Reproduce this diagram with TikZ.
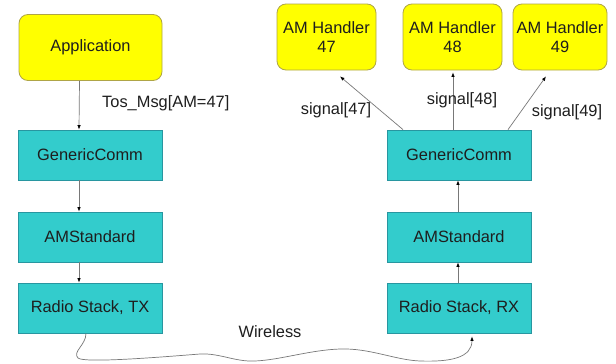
\documentclass[tikz,border=0pt]{standalone}
\usepackage{fontspec}
\setmainfont{Liberation Sans}
\usetikzlibrary{arrows.meta}
\definecolor{yfill}{RGB}{255,255,0}
\definecolor{ydraw}{RGB}{175,165,70}
\definecolor{tfill}{RGB}{51,204,204}
\definecolor{tdraw}{RGB}{40,150,160}
\definecolor{lgray}{RGB}{120,120,120}
\definecolor{txt}{RGB}{30,30,30}
\tikzset{
  every node/.style={font=\fontsize{16.4}{19}\selectfont, text=txt},
  ybox/.style={draw=ydraw, fill=yfill, rounded corners=9pt, line width=0.8pt, inner sep=0pt, align=center},
  tbox/.style={draw=tdraw, fill=tfill, line width=0.8pt, inner sep=0pt, minimum width=144pt, minimum height=50pt},
  conn/.style={draw=lgray, line width=0.7pt, -{Latex[length=4.5pt,width=3.5pt,color=black]}},
  lbl/.style={inner sep=0pt}
}
\begin{document}
\begin{tikzpicture}[x=1pt,y=-1pt]
\useasboundingbox (0,0) rectangle (616,364);
\fill[white] (0,0) rectangle (616,364);
% left column
\node[ybox, minimum width=143pt, minimum height=66pt] (app) at (90.5,47.5) {Application};
\node[tbox] (gc1) at (90,155) {GenericComm};
\node[tbox] (ams1) at (90,237) {AMStandard};
\node[tbox] (tx) at (90,308) {Radio Stack, TX};
% right column
\node[tbox] (gc2) at (459,155) {GenericComm};
\node[tbox] (ams2) at (459,237) {AMStandard};
\node[tbox] (rx) at (459,308) {Radio Stack, RX};
% handlers
\node[ybox, minimum width=99pt, minimum height=66pt] (h47) at (326.5,37) {AM Handler\\47};
\node[ybox, minimum width=99pt, minimum height=66pt] (h48) at (452.5,37) {AM Handler\\48};
\node[ybox, minimum width=94pt, minimum height=66pt] (h49) at (560,37) {AM Handler\\49};
% left arrows
\draw[conn] ([xshift=-11pt]app.south) -- ([xshift=-11pt]gc1.north);
\draw[conn] ([xshift=-11pt]gc1.south) -- ([xshift=-11pt]ams1.north);
\draw[conn] ([xshift=-11pt]ams1.south) -- ([xshift=-11pt]tx.north);
% right arrows
\draw[conn] ([xshift=-1pt]rx.north) -- ([xshift=-1pt]ams2.south);
\draw[conn] ([xshift=-1pt]ams2.north) -- ([xshift=-1pt]gc2.south);
\draw[conn] ([xshift=-56pt]gc2.north) -- ([xshift=13.5pt,yshift=-6pt]h47.south);
\draw[conn] ([xshift=-6pt]gc2.north) -- ([xshift=0.5pt,yshift=-2pt]h48.south);
\draw[conn] ([xshift=49pt]gc2.north) -- ([xshift=-14pt,yshift=-6pt]h49.south);
% wireless
\draw[conn] ([xshift=-4pt]tx.south) .. controls (86,345) and (72,352) .. (78,358)
  .. controls (84,363) and (150,358) .. (200,354)
  .. controls (220,353) and (235,362) .. (255,361)
  .. controls (280,360) and (310,350) .. (340,349)
  .. controls (370,348) and (395,360) .. (420,361)
  .. controls (450,362) and (472,358) .. ([xshift=13pt,yshift=-3pt]rx.south);
% labels
\node[lbl, anchor=west] (tos) at (102,103) {Tos\_Msg[AM=47]};
\node[lbl] (s47) at (336,110) {signal[47]};
\node[lbl] (s48) at (462,100) {signal[48]};
\node[lbl] (s49) at (567,112) {signal[49]};
\node[lbl] (wl) at (270,332) {Wireless};
\end{tikzpicture}
\end{document}
